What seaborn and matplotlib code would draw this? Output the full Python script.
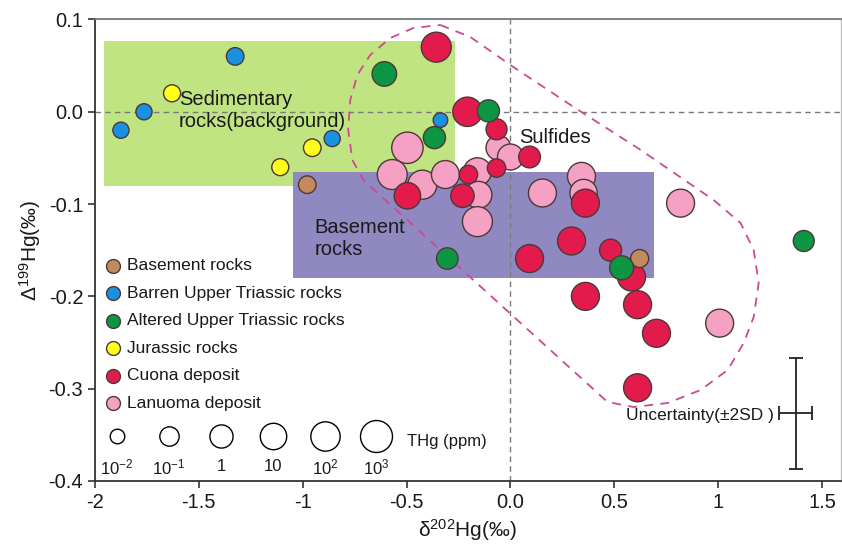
import matplotlib
matplotlib.use("Agg")
import matplotlib.pyplot as plt
from matplotlib.colors import LogNorm
from matplotlib.patches import Rectangle
import numpy as np
import pandas as pd
import seaborn as sns

# groups and colours
groups = ['Basement rocks', 'Barren Upper Triassic rocks', 'Altered Upper Triassic rocks',
          'Jurassic rocks', 'Cuona deposit', 'Lanuoma deposit']
colors = ['#c38a5e', '#1a90e0', '#0c9643', '#ffff1a', '#e31b4c', '#f5a1c3']

# Lanuoma deposit
lan_d202 = [-0.496, -0.569, -0.424, -0.313, -0.159, -0.154, -0.159, -0.058, 0.000, 0.154, 0.342, 0.352, 0.819, 1.007]
lan_D199 = [-0.039, -0.068, -0.079, -0.068, -0.065, -0.090, -0.119, -0.039, -0.049, -0.088, -0.070, -0.088, -0.099, -0.229]
lan_thg = [600, 170, 80, 33, 33, 15, 170, 3, 7, 33, 33, 20, 33, 33]

# Cuona deposit
cuo_d202 = [-0.357, -0.207, -0.067, 0.092, -0.067, -0.202, -0.496, -0.231, 0.092, 0.361, 0.294, 0.482, 0.583, 0.361, 0.612, 0.703, 0.612]
cuo_D199 = [0.070, 0.000, -0.019, -0.049, -0.061, -0.068, -0.091, -0.091, -0.159, -0.099, -0.140, -0.150, -0.179, -0.200, -0.209, -0.240, -0.299]
cuo_thg = [170, 100, 0.25, 0.4, 0.06, 0.06, 10, 1.2, 33, 33, 33, 0.5, 33, 33, 33, 33, 33]

# Basement rocks
bas_d202 = [-0.978, 0.622]
bas_D199 = [-0.079, -0.159]
bas_thg = [0.04, 0.05]

# Barren Upper Triassic rocks
bar_d202 = [-1.325, -1.764, -1.875, -0.858, -0.337]
bar_D199 = [0.060, 0.000, -0.020, -0.029, -0.009]
bar_thg = [0.04, 0.02, 0.02, 0.02, 0.01]

# Altered Upper Triassic rocks
alt_d202 = [-0.607, -0.106, -0.366, -0.304, 0.535, 1.412]
alt_D199 = [0.041, 0.001, -0.028, -0.159, -0.169, -0.140]
alt_thg = [2.5, 0.5, 0.5, 0.35, 1.7, 0.25]

# Jurassic rocks
jur_d202 = [-1.629, -0.954, -1.108]
jur_D199 = [0.020, -0.039, -0.060]
jur_thg = [0.03, 0.04, 0.03]

# size legend
size_levels = [0.01, 0.1, 1, 10, 100, 1000]
size_labels = ['10$^{-2}$', '10$^{-1}$', '1', '10', '10$^{2}$', '10$^{3}$']

# background fields
sed_box = (-1.957, -0.0804, 1.692, 0.1571)
bas_box = (-1.046, -0.180, 1.735, 0.1148)

# sulfide envelope (hand drawn region)
env_x = [-0.337, -0.193, 0.014, 0.304, 0.627, 0.978, 1.108, 1.171, 1.195, 1.171, 1.123, 1.046,
         0.916, 0.757, 0.593, 0.467, -0.708, -0.761, -0.781, -0.771, -0.737, -0.675, -0.578, -0.467, -0.337]
env_y = [0.094, 0.081, 0.0485, 0.0052, -0.0414, -0.0956, -0.1205, -0.1498, -0.1855, -0.2223, -0.2505, -0.2797,
         -0.3014, -0.3155, -0.3199, -0.3144, -0.0739, -0.0522, -0.0197, 0.0128, 0.0399, 0.0615, 0.0800, 0.0908, 0.094]

# uncertainty
unc_x, unc_y, unc_xerr, unc_yerr = 1.373, -0.3265, 0.079, 0.060

# order = drawing order
parts = [
    ('Lanuoma deposit', lan_d202, lan_D199, lan_thg),
    ('Cuona deposit', cuo_d202, cuo_D199, cuo_thg),
    ('Basement rocks', bas_d202, bas_D199, bas_thg),
    ('Barren Upper Triassic rocks', bar_d202, bar_D199, bar_thg),
    ('Altered Upper Triassic rocks', alt_d202, alt_D199, alt_thg),
    ('Jurassic rocks', jur_d202, jur_D199, jur_thg),
]
df = pd.concat([pd.DataFrame({'group': g, 'd202': x, 'D199': y, 'THg': t}) for g, x, y, t in parts],
               ignore_index=True)

sns.set_theme(style='ticks')
plt.rcParams['font.family'] = ['Liberation Sans', 'DejaVu Sans']
plt.rcParams['mathtext.fontset'] = 'custom'
plt.rcParams['mathtext.rm'] = 'Liberation Sans'
plt.rcParams['mathtext.default'] = 'regular'

fig = plt.figure(figsize=(8.42, 5.47), dpi=100)
ax = fig.add_axes([0.1128, 0.1207, 0.8857, 0.8437])

ax.add_patch(Rectangle(sed_box[:2], sed_box[2], sed_box[3], facecolor='#c1e483', edgecolor='none', zorder=0))
ax.add_patch(Rectangle(bas_box[:2], bas_box[2], bas_box[3], facecolor='#9089c1', edgecolor='none', zorder=1))

ax.axhline(0, color='#7a7a7a', lw=1, ls=(0, (4, 3)), zorder=1.5)
ax.axvline(0, color='#7a7a7a', lw=1, ls=(0, (4, 3)), zorder=1.5)
ax.plot(env_x, env_y, color='#cc4a92', lw=1.3, ls=(0, (5, 4)), zorder=2)

snorm = LogNorm(vmin=0.01, vmax=1000)
smin, smax = 110, 530
sns.scatterplot(data=df, x='d202', y='D199', hue='group', hue_order=groups, palette=colors,
                size='THg', sizes=(smin, smax), size_norm=snorm,
                edgecolor='#4d3838', linewidth=1, alpha=1, legend=False, ax=ax, zorder=3)

ax.errorbar(unc_x, unc_y, xerr=unc_xerr, yerr=unc_yerr, fmt='none', ecolor='#222222',
            elinewidth=1.3, capsize=5, capthick=1.3, zorder=4)

ax.text(-1.595, 0.001, 'Sedimentary\nrocks(background)', fontsize=14.5, va='center', ha='left',
        linespacing=1.2, color='#1a1a1a', zorder=5)
ax.text(0.043, -0.028, 'Sulfides', fontsize=14.5, va='center', ha='left', color='#1a1a1a', zorder=5)
ax.text(-0.945, -0.137, 'Basement\nrocks', fontsize=14.5, va='center', ha='left',
        linespacing=1.2, color='#1a1a1a', zorder=5)
ax.text(0.554, -0.3295, 'Uncertainty(±2SD )', fontsize=12.5, va='center', ha='left', color='#1a1a1a')
ax.text(-0.496, -0.3567, 'THg (ppm)', fontsize=12, va='center', ha='left', color='#1a1a1a')

# category legend
for i, (g, c) in enumerate(zip(groups, colors)):
    yy = 0.4659 - i * 0.0596
    ax.scatter([0.0241], [yy], s=100, color=c, edgecolor='#4d3838', linewidth=1,
               transform=ax.transAxes, zorder=5, clip_on=False)
    ax.text(0.0429, yy, g, fontsize=12.5, va='center', ha='left', transform=ax.transAxes, color='#1a1a1a')

# size legend
sx = [0.0295, 0.0992, 0.169, 0.2387, 0.3084, 0.3768]
for xx, lev, lab in zip(sx, size_levels, size_labels):
    s = smin + float(snorm(lev)) * (smax - smin)
    ax.scatter([xx], [0.0975], s=s, facecolor='white', edgecolor='black', linewidth=1,
               transform=ax.transAxes, zorder=5)
    ax.text(xx, 0.0303, lab, fontsize=12, ha='center', va='center', transform=ax.transAxes, color='#1a1a1a')

ax.set_xlim(-2, 1.59)
ax.set_ylim(-0.4, 0.1)
ax.set_xticks([-2, -1.5, -1, -0.5, 0, 0.5, 1, 1.5])
ax.set_xticklabels(['-2', '-1.5', '-1', '-0.5', '0.0', '0.5', '1', '1.5'])
ax.set_yticks([0.1, 0, -0.1, -0.2, -0.3, -0.4])
ax.set_yticklabels(['0.1', '0.0', '-0.1', '-0.2', '-0.3', '-0.4'])
ax.tick_params(axis='both', labelsize=14.5, direction='out', length=5, width=1.2, color='#333333',
               labelcolor='#1a1a1a', top=False, right=False)

for side in ['left', 'bottom']:
    ax.spines[side].set_color('#333333')
    ax.spines[side].set_linewidth(1.3)
ax.spines['top'].set_color('#777777')
ax.spines['top'].set_linewidth(1.3)
ax.spines['right'].set_color('#c0c0c0')
ax.spines['right'].set_linewidth(1)

ax.set_xlabel('δ$^{202}$Hg(‰)', fontsize=15, color='#1a1a1a', labelpad=4)
ax.set_ylabel('Δ$^{199}$Hg(‰)', fontsize=15, color='#1a1a1a', labelpad=4)

fig.savefig('out.png', dpi=100)
